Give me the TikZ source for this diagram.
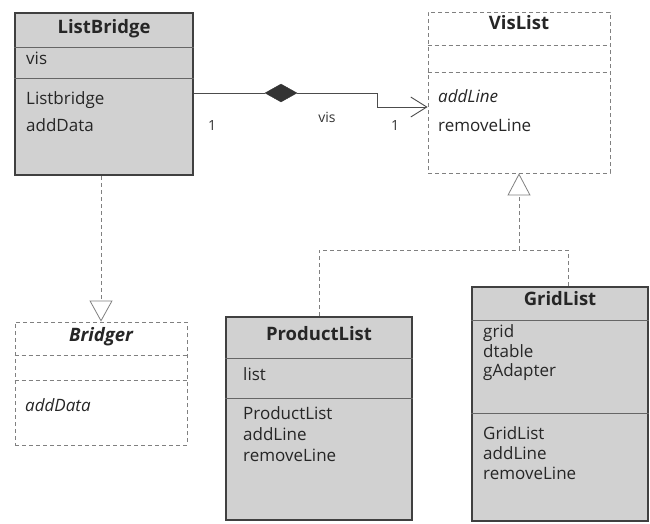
\documentclass[tikz,border=0pt]{standalone}
\usepackage{fontspec}
\setmainfont{Open Sans}
\usetikzlibrary{arrows.meta,shapes.geometric}
\begin{document}
\begin{tikzpicture}[x=1pt,y=-1pt,
  concrete/.style={draw=black!75, line width=2.2pt, fill=black!18, rectangle, inner sep=0pt},
  abstractcls/.style={draw=black!50, line width=0.8pt, dash pattern=on 4pt off 3pt, fill=white, rectangle, inner sep=0pt},
  divider/.style={draw=black!60, line width=0.8pt},
  dashdiv/.style={draw=black!50, line width=0.8pt, dash pattern=on 4pt off 3pt},
  member/.style={anchor=west, inner sep=0pt, font=\fontsize{17}{19}\selectfont, text=black!85, text height=0.72em, text depth=0.2em},
  title/.style={member, anchor=center, font=\fontsize{18.5}{20}\selectfont\bfseries},
  rolelabel/.style={inner sep=0pt, font=\fontsize{14}{16}\selectfont, text=black!80},
  link/.style={draw=black!70, line width=0.9pt},
  realize/.style={draw=black!50, line width=0.8pt, dash pattern=on 4pt off 3pt},
]
\useasboundingbox (0,0) rectangle (650,523);

% ---- ListBridge ----
\node[concrete, minimum width=178pt, minimum height=162pt] (lb) at (104,94) {};
\draw[divider] (lb.west |- 0,47) -- (lb.east |- 0,47);
\draw[divider] (lb.west |- 0,78) -- (lb.east |- 0,78);
\node[title] (lbt) at (104,31) {ListBridge};
\node[member] (lba) at (26,62) {vis};
\node[member] (lbm1) at (26,102) {Listbridge};
\node[member] (lbm2) at (26,129) {addData};

% ---- VisList ----
\node[abstractcls, minimum width=182pt, minimum height=161pt] (vl) at (519,92.5) {};
\draw[dashdiv] (vl.west |- 0,45) -- (vl.east |- 0,45);
\draw[dashdiv] (vl.west |- 0,72) -- (vl.east |- 0,72);
\node[title] (vlt) at (519,27) {VisList};
\node[member, font=\fontsize{17}{19}\selectfont\itshape] (vlm1) at (438,100) {addLine};
\node[member] (vlm2) at (438,129) {removeLine};

% ---- Bridger ----
\node[abstractcls, minimum width=172pt, minimum height=123pt] (br) at (101,383.5) {};
\draw[dashdiv] (br.west |- 0,355) -- (br.east |- 0,355);
\draw[dashdiv] (br.west |- 0,380) -- (br.east |- 0,380);
\node[title, font=\fontsize{18.5}{20}\selectfont\bfseries\itshape] (brt) at (101,339) {Bridger};
\node[member, font=\fontsize{17}{19}\selectfont\itshape] (brm) at (25,409) {addData};

% ---- ProductList ----
\node[concrete, minimum width=186pt, minimum height=203pt] (pl) at (319,418.5) {};
\draw[divider] (pl.west |- 0,358) -- (pl.east |- 0,358);
\draw[divider] (pl.west |- 0,398) -- (pl.east |- 0,398);
\node[title] (plt) at (319,338) {ProductList};
\node[member] (pla) at (243,378) {list};
\node[member] (plm1) at (243,417) {ProductList};
\node[member] (plm2) at (243,438) {addLine};
\node[member] (plm3) at (243,459) {removeLine};

% ---- GridList ----
\node[concrete, minimum width=176pt, minimum height=234pt] (gl) at (560,404) {};
\draw[divider] (gl.west |- 0,320) -- (gl.east |- 0,320);
\draw[divider] (gl.west |- 0,413) -- (gl.east |- 0,413);
\node[title] (glt) at (560,303) {GridList};
\node[member] (gla1) at (483,335) {grid};
\node[member] (gla2) at (483,355) {dtable};
\node[member] (gla3) at (483,374) {gAdapter};
\node[member] (glm1) at (483,437) {GridList};
\node[member] (glm2) at (483,457) {addLine};
\node[member] (glm3) at (483,477) {removeLine};

% ---- composition ListBridge <>-- VisList ----
\node[diamond, fill=black!80, draw=black!80, inner sep=0pt, minimum width=32pt, minimum height=18pt] (dia) at (281,93) {};
\coordinate (bend1) at (377,93);
\coordinate (bend2) at (377,107);
\draw[link] (lb.east |- dia) -- (dia.west);
\draw[link, -{Straight Barb[length=16pt, width=20pt]}] (dia.east) -- (bend1) -- (bend2) -- (vl.west |- bend2);
\node[rolelabel] (m1) at (212,125) {1};
\node[rolelabel] (role) at (327,117) {vis};
\node[rolelabel] (m2) at (395,125) {1};

% ---- realization ListBridge --> Bridger ----
\draw[realize, -{Triangle[open, length=21pt, width=23pt, line width=0.8pt, fill=white]}] (lb.south -| br.north) -- (br.north);

% ---- realization ProductList, GridList --> VisList ----
\coordinate (join) at (519,250);
\draw[realize, -{Triangle[open, length=22pt, width=23pt, line width=0.8pt, fill=white]}] (join) -- (vl.south);
\draw[realize] (pl.north) |- (join);
\draw[realize] ([xshift=8pt]gl.north) |- (join);
\end{tikzpicture}
\end{document}
